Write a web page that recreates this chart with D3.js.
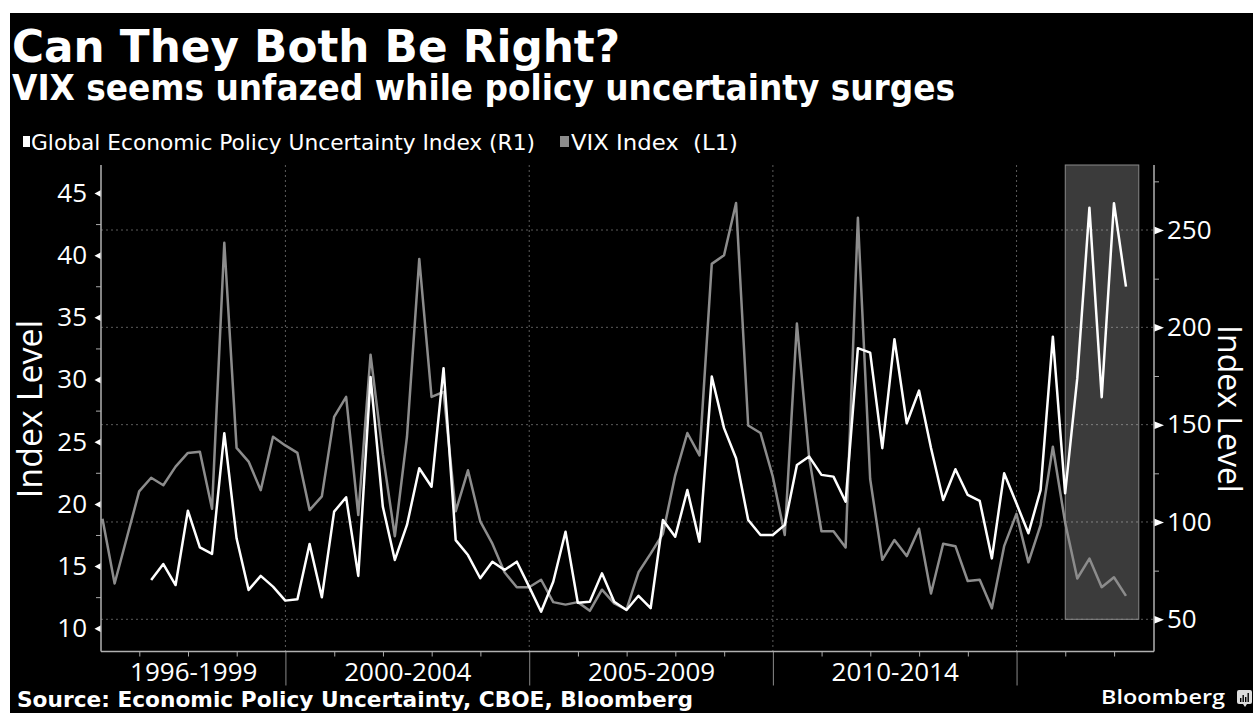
<!DOCTYPE html>
<html lang="en">
<head>
<meta charset="utf-8">
<title>Can They Both Be Right?</title>
<script src="https://d3js.org/d3.v7.min.js"></script>
<style>
body { margin: 0; background: #fff; }
svg text { fill: #fff; }
.tick text { font-family: "Open Sans", sans-serif; font-size: 26px; fill: #fff; }
</style>
</head>
<body>
<script>
var title = "Can They Both Be Right?";
var subtitle = "VIX seems unfazed while policy uncertainty surges";
var seriesNames = ["Global Economic Policy Uncertainty Index (R1)", "VIX Index  (L1)"];
var sourceText = "Source: Economic Policy Uncertainty, CBOE, Bloomberg";

// quarterly data, first quarter ends Mar 1996
var firstYear = 1996;
var vix = [18.8, 13.6, 17.3, 21.0, 22.1, 21.5, 23.0, 24.1, 24.2, 19.6,
           41.0, 24.5, 23.4, 21.1, 25.4, 24.7, 24.1, 19.5, 20.6, 27.0,
           28.6, 19.1, 32.0, 24.0, 17.4, 25.4, 39.7, 28.6, 29.0, 19.4,
           22.7, 18.6, 16.8, 14.5, 13.3, 13.3, 13.9, 12.1, 11.9, 12.1,
           11.4, 13.1, 12.0, 11.5, 14.5, 16.0, 17.6, 22.3, 25.7, 23.9,
           39.3, 40.0, 44.2, 26.3, 25.7, 22.2, 17.5, 34.5, 23.7, 17.8,
           17.8, 16.5, 43.0, 22.0, 15.5, 17.1, 15.8, 18.0, 12.8, 16.8,
           16.6, 13.8, 13.9, 11.6, 16.6, 19.2, 15.3, 18.3, 24.6, 18.5,
           14.0, 15.6, 13.3, 14.1, 12.6];
var epu = [null, null, null, null, 70.2, 78.4, 67.6, 105.8, 87.0, 83.6,
           145.6, 91.6, 65.1, 72.3, 66.8, 59.6, 60.3, 88.7, 61.3, 105.3,
           112.7, 72.3, 174.5, 107.9, 80.5, 98.5, 127.6, 118.1, 179.0, 90.7,
           83.0, 71.1, 79.6, 75.3, 79.6, 66.8, 53.9, 69.3, 95.0, 58.5,
           59.0, 73.6, 59.0, 54.8, 62.1, 55.7, 101.0, 92.4, 116.4, 89.9,
           174.7, 148.2, 132.7, 101.0, 93.3, 93.3, 98.5, 129.3, 133.6, 124.2,
           123.3, 110.4, 189.3, 187.0, 137.9, 193.9, 150.7, 167.5, 138.0, 111.3,
           127.1, 113.9, 110.8, 81.3, 125.0, 109.6, 94.2, 116.4, 195.2, 114.7,
           173.9, 261.5, 164.1, 263.8, 220.9];

var leftTicks = [10, 15, 20, 25, 30, 35, 40, 45];
var leftMinor = [12.5, 17.5, 22.5, 27.5, 32.5, 37.5, 42.5];
var rightTicks = [50, 100, 150, 200, 250];
var rightMinor = [75, 125, 175, 225, 275];
var periods = ["1996-1999", "2000-2004", "2005-2009", "2010-2014"];
var periodBreaks = [2000, 2005, 2010, 2015];
var shaded = [new Date(2016, 0, 1), new Date(2017, 6, 5)];

var W = 1253, H = 713;
var plot = {left: 101, right: 1154, top: 165, bottom: 651.5};

var svg = d3.select("body").append("svg")
  .attr("width", W)
  .attr("height", H);

svg.append("rect")
  .attr("x", 10).attr("y", 13)
  .attr("width", W - 10).attr("height", H - 13)
  .attr("fill", "#000");

var dates = vix.map(function(d, i) { return new Date(firstYear, 3 + 3 * i, 0); });

var x = d3.scaleTime()
  .domain([new Date(1996, 2, 20), new Date(2017, 9, 27)])
  .range([plot.left, plot.right]);
var yL = d3.scaleLinear().domain([8.13, 47.25]).range([plot.bottom, plot.top]);
var yR = d3.scaleLinear().domain([33.46, 283.4]).range([plot.bottom, plot.top]);

// grid
var grid = svg.append("g").attr("stroke", "#5c5c5c").attr("stroke-dasharray", "2,3");
grid.selectAll("line.h").data(rightTicks).join("line")
  .attr("class", "h")
  .attr("x1", plot.left).attr("x2", plot.right)
  .attr("y1", function(d) { return yR(d); }).attr("y2", function(d) { return yR(d); });
grid.selectAll("line.v").data(periodBreaks).join("line")
  .attr("class", "v")
  .attr("x1", function(d) { return x(new Date(d, 0, 1)); })
  .attr("x2", function(d) { return x(new Date(d, 0, 1)); })
  .attr("y1", plot.top).attr("y2", plot.bottom);

// shaded recent period
svg.append("rect")
  .attr("x", x(shaded[0]))
  .attr("y", plot.top)
  .attr("width", x(shaded[1]) - x(shaded[0]))
  .attr("height", yR(50) - plot.top)
  .attr("fill", "#fff").attr("fill-opacity", 0.23)
  .attr("stroke", "#8a8a8a").attr("stroke-width", 1);

// lines
var vixLine = d3.line()
  .x(function(d, i) { return x(dates[i]); })
  .y(function(d) { return yL(d); });
var epuLine = d3.line()
  .defined(function(d) { return d != null; })
  .x(function(d, i) { return x(dates[i]); })
  .y(function(d) { return yR(d); });

svg.append("path").datum(vix)
  .attr("d", vixLine)
  .attr("fill", "none").attr("stroke", "#8c8c8c").attr("stroke-width", 2.5)
  .attr("stroke-linejoin", "round");
svg.append("path").datum(epu)
  .attr("d", epuLine)
  .attr("fill", "none").attr("stroke", "#fff").attr("stroke-width", 2.5)
  .attr("stroke-linejoin", "round");

// left axis
var gL = svg.append("g").attr("transform", "translate(" + plot.left + ",0)")
  .call(d3.axisLeft(yL).tickValues(leftTicks).tickSize(0).tickPadding(14));
gL.select(".domain").remove();
gL.selectAll(".tick").append("path").attr("d", "M-6.5,0L0,-3.5L0,3.5Z").attr("fill", "#fff");
var gLm = svg.append("g").attr("transform", "translate(" + plot.left + ",0)")
  .call(d3.axisLeft(yL).tickValues(leftMinor).tickSize(5).tickFormat(""));
gLm.select(".domain").remove();
gLm.selectAll("line").attr("stroke", "#aaa");

// right axis
var gR = svg.append("g").attr("transform", "translate(" + plot.right + ",0)")
  .call(d3.axisRight(yR).tickValues(rightTicks).tickSize(0).tickPadding(13));
gR.select(".domain").remove();
gR.selectAll(".tick").append("path").attr("d", "M10,0L0,-4L0,4Z").attr("fill", "#fff");
var gRm = svg.append("g").attr("transform", "translate(" + plot.right + ",0)")
  .call(d3.axisRight(yR).tickValues(rightMinor).tickSize(5).tickFormat(""));
gRm.select(".domain").remove();
gRm.selectAll("line").attr("stroke", "#aaa");

// bottom axis
var years = d3.range(1997, 2018).filter(function(y) { return periodBreaks.indexOf(y) < 0; });
var gBm = svg.append("g").attr("transform", "translate(0," + plot.bottom + ")")
  .call(d3.axisBottom(x).tickValues(years.map(function(y) { return new Date(y, 0, 1); }))
    .tickSize(5).tickFormat(""));
gBm.select(".domain").remove();
gBm.selectAll("line").attr("stroke", "#aaa");
var gBM = svg.append("g").attr("transform", "translate(0," + plot.bottom + ")")
  .call(d3.axisBottom(x).tickValues(periodBreaks.map(function(y) { return new Date(y, 0, 1); }))
    .tickSize(34).tickFormat(""));
gBM.select(".domain").remove();
gBM.selectAll("line").attr("stroke", "#8a8a8a");

var bounds = [x.domain()[0]].concat(periodBreaks.map(function(y) { return new Date(y, 0, 1); }));
var mids = periods.map(function(p, i) { return new Date((+bounds[i] + +bounds[i + 1]) / 2); });
var gBl = svg.append("g").attr("transform", "translate(0," + plot.bottom + ")")
  .call(d3.axisBottom(x).tickValues(mids).tickSize(0).tickPadding(11)
    .tickFormat(function(d, i) { return periods[i]; }));
gBl.select(".domain").remove();

// axis frame
var frame = svg.append("g").attr("stroke", "#b0b0b0").attr("stroke-width", 1.5);
frame.append("line").attr("x1", plot.left).attr("x2", plot.left).attr("y1", plot.top).attr("y2", plot.bottom);
frame.append("line").attr("x1", plot.right).attr("x2", plot.right).attr("y1", plot.top).attr("y2", plot.bottom);
frame.append("line").attr("x1", plot.left).attr("x2", plot.right).attr("y1", plot.bottom).attr("y2", plot.bottom);

// axis titles
svg.append("text")
  .attr("transform", "translate(42,409) rotate(-90)")
  .attr("text-anchor", "middle")
  .attr("font-family", "Open Sans, sans-serif").attr("font-size", 34)
  .text("Index Level");
svg.append("text")
  .attr("transform", "translate(1218,409) rotate(90)")
  .attr("text-anchor", "middle")
  .attr("font-family", "Open Sans, sans-serif").attr("font-size", 32)
  .text("Index Level");

// titles
svg.append("text")
  .attr("x", 12).attr("y", 62)
  .attr("font-family", "DejaVu Sans, sans-serif").attr("font-weight", "bold").attr("font-size", 44)
  .attr("textLength", 608).attr("lengthAdjust", "spacingAndGlyphs")
  .text(title);
svg.append("text")
  .attr("x", 12).attr("y", 100)
  .attr("font-family", "DejaVu Sans, sans-serif").attr("font-weight", "bold").attr("font-size", 35)
  .attr("textLength", 943).attr("lengthAdjust", "spacingAndGlyphs")
  .text(subtitle);

// legend
var legend = svg.append("g").attr("font-family", "DejaVu Sans Condensed, DejaVu Sans, sans-serif").attr("font-size", 21);
legend.append("rect").attr("x", 23).attr("y", 136).attr("width", 7).attr("height", 11).attr("fill", "#fff");
legend.append("text").attr("x", 31).attr("y", 150)
  .attr("textLength", 504).attr("lengthAdjust", "spacingAndGlyphs")
  .text(seriesNames[0]);
legend.append("rect").attr("x", 560).attr("y", 136).attr("width", 9).attr("height", 11).attr("fill", "#8c8c8c");
legend.append("text").attr("x", 571).attr("y", 150)
  .attr("textLength", 167).attr("lengthAdjust", "spacingAndGlyphs")
  .attr("xml:space", "preserve")
  .text(seriesNames[1]);

// source and logo
svg.append("text")
  .attr("x", 17).attr("y", 707)
  .attr("font-family", "DejaVu Sans, sans-serif").attr("font-weight", "bold").attr("font-size", 22)
  .attr("textLength", 676).attr("lengthAdjust", "spacingAndGlyphs")
  .text(sourceText);
svg.append("text")
  .attr("x", 1101).attr("y", 704)
  .attr("font-family", "Open Sans, sans-serif").attr("font-weight", 600).attr("font-size", 20)
  .attr("textLength", 124).attr("lengthAdjust", "spacingAndGlyphs")
  .text("Bloomberg");
var logo = svg.append("g").attr("transform", "translate(1237,690)");
logo.append("rect").attr("width", 15).attr("height", 14).attr("rx", 2).attr("fill", "#ddd");
logo.append("path").attr("d", "M6,14L8,17L10,14Z").attr("fill", "#ddd");
logo.selectAll("rect.bar").data([4, 7, 5, 9]).join("rect")
  .attr("class", "bar")
  .attr("x", function(d, i) { return 3 + i * 2.5; })
  .attr("y", function(d) { return 12 - d; })
  .attr("width", 1.4).attr("height", function(d) { return d; })
  .attr("fill", "#000");
</script>
</body>
</html>
